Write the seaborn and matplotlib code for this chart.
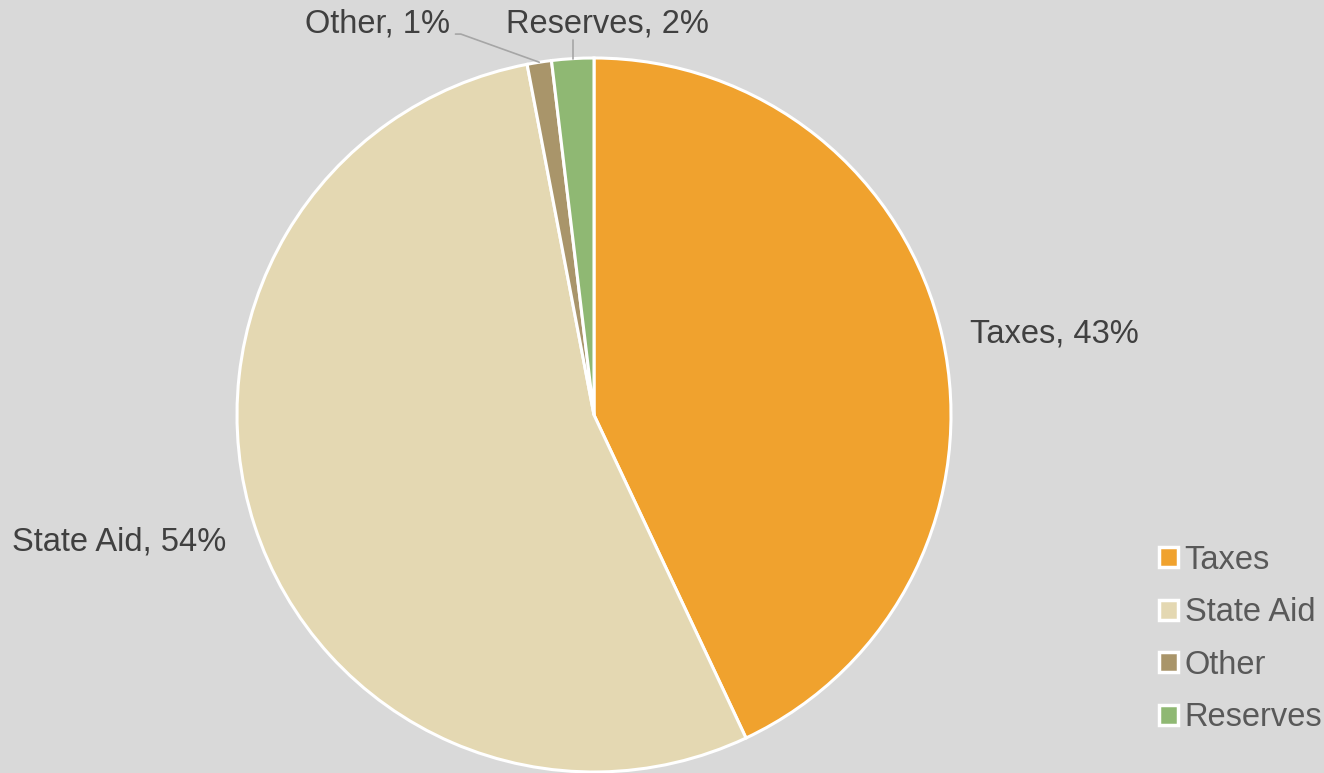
import numpy as np
import seaborn as sns
import matplotlib.pyplot as plt
from matplotlib.patches import Patch

categories = ["Taxes", "State Aid", "Other", "Reserves"]
shares = [43.0, 54.0, 1.1, 1.9]
colors = ["#F0A22E", "#E4D8B2", "#A9956A", "#8FB873"]

sns.set_theme(style="white")
plt.rcParams['font.family'] = ['Liberation Sans', 'DejaVu Sans']

bg = "#D9D9D9"
fig = plt.figure(figsize=(13.24, 7.73), dpi=100, facecolor=bg)
# square axes: pie centre at (594, 415) px, radius 357 px
ax = fig.add_axes([237 / 1324, 1 / 773, 714 / 1324, 714 / 773])
ax.set_facecolor(bg)

wedges, _ = ax.pie(shares, colors=sns.color_palette(colors), startangle=90,
                   counterclock=False, radius=1,
                   wedgeprops=dict(edgecolor="white", linewidth=2.2))
ax.set_xlim(-1, 1)
ax.set_ylim(-1, 1)
ax.set_aspect("equal")
ax.axis("off")

fs = 23.5
txt_kw = dict(fontsize=fs, color="#404040", va="center")
label_pos = {
    "Taxes": ((1.053, 0.227), "left", False),
    "State Aid": ((-1.031, -0.357), "right", False),
    "Other": ((-0.403, 1.095), "right", True),
    "Reserves": ((0.039, 1.095), "center", True),
}
for w, name, val in zip(wedges, categories, shares):
    (tx, ty), ha, leader = label_pos[name]
    s = f"{name}, {round(val):.0f}%"
    if leader:
        mid = np.deg2rad((w.theta1 + w.theta2) / 2)
        px, py = np.cos(mid), np.sin(mid)
        if name == "Other":
            ax.plot([tx + 0.015, tx + 0.03, px], [ty - 0.028, ty - 0.028, py],
                    color="#A6A6A6", lw=1.2, clip_on=False)
        else:
            ax.plot([px, px], [py, ty - 0.045], color="#A6A6A6", lw=1.2, clip_on=False)
    ax.text(tx, ty, s, ha=ha, **txt_kw)

handles = [Patch(facecolor=c, edgecolor="white", linewidth=2.5) for c in colors]
leg = fig.legend(handles, categories, loc="center left",
                 bbox_to_anchor=(1146 / 1324, 1 - 639 / 773),
                 frameon=False, fontsize=fs, handlelength=0.58, handleheight=0.58,
                 handletextpad=0.2, labelspacing=0.66, borderaxespad=0)
for t in leg.get_texts():
    t.set_color("#595959")

fig.savefig("out.png", dpi=100, facecolor=bg)
